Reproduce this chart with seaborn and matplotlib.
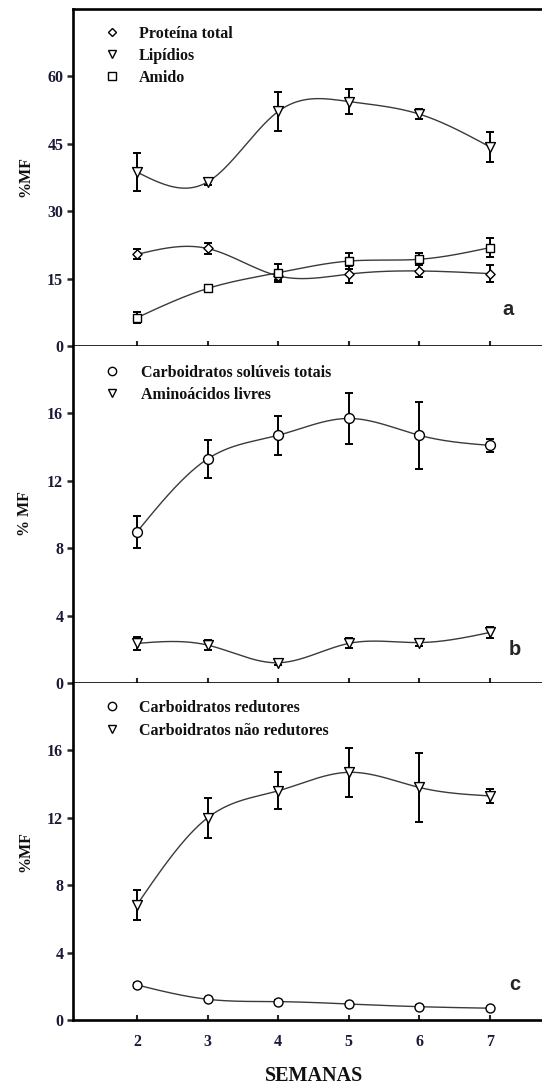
import numpy as np
import pandas as pd
import matplotlib
matplotlib.use("Agg")
import matplotlib.pyplot as plt
from matplotlib.lines import Line2D
import seaborn as sns

# ---------------- data ----------------
weeks = [2, 3, 4, 5, 6, 7]

proteina = [20.4, 21.7, 15.6, 16.0, 16.7, 16.1]
proteina_err = [1.1, 1.2, 1.0, 1.9, 1.4, 1.9]
lipidios = [38.7, 36.5, 52.2, 54.4, 51.6, 44.3]
lipidios_err = [4.3, 0.7, 4.4, 2.8, 1.1, 3.4]
amido = [6.3, 12.8, 16.3, 18.9, 19.3, 21.9]
amido_err = [1.2, 0.6, 2.0, 1.7, 1.3, 2.2]

carb_soluveis = [8.97, 13.3, 14.7, 15.7, 14.7, 14.1]
carb_soluveis_err = [0.95, 1.15, 1.15, 1.5, 2.0, 0.4]
aminoacidos = [2.35, 2.25, 1.2, 2.35, 2.4, 3.0]
aminoacidos_err = [0.4, 0.3, 0.15, 0.3, 0.2, 0.3]

carb_redutores = [2.08, 1.23, 1.09, 0.95, 0.79, 0.70]
carb_redutores_err = [0.12, 0.1, 0.08, 0.08, 0.1, 0.06]
carb_nao_redutores = [6.84, 12.0, 13.6, 14.7, 13.8, 13.3]
carb_nao_redutores_err = [0.9, 1.2, 1.1, 1.45, 2.05, 0.4]

yticks_a = [0, 15, 30, 45, 60]
yticks_bc = [0, 4, 8, 12, 16]
xtick_labels = ["2", "3", "4", "5", "6", "7"]


# ------------- helper: natural cubic spline for smooth curve -------------
def natural_spline(x, y, xs):
    x = np.asarray(x, float)
    y = np.asarray(y, float)
    n = len(x)
    h = np.diff(x)
    A = np.zeros((n, n))
    b = np.zeros(n)
    A[0, 0] = 1
    A[-1, -1] = 1
    for i in range(1, n - 1):
        A[i, i - 1] = h[i - 1]
        A[i, i] = 2 * (h[i - 1] + h[i])
        A[i, i + 1] = h[i]
        b[i] = 6 * ((y[i + 1] - y[i]) / h[i] - (y[i] - y[i - 1]) / h[i - 1])
    M = np.linalg.solve(A, b)
    out = np.empty_like(xs)
    for k, xv in enumerate(xs):
        i = min(max(np.searchsorted(x, xv) - 1, 0), n - 2)
        t1 = x[i + 1] - xv
        t0 = xv - x[i]
        out[k] = (M[i] * t1 ** 3 / (6 * h[i]) + M[i + 1] * t0 ** 3 / (6 * h[i])
                  + (y[i] / h[i] - M[i] * h[i] / 6) * t1
                  + (y[i + 1] / h[i] - M[i + 1] * h[i] / 6) * t0)
    return out


sns.set_style("ticks")
SERIF = ["Liberation Serif", "DejaVu Serif"]
plt.rcParams["font.family"] = SERIF

W, H = 542, 1086
fig = plt.figure(figsize=(W / 100, H / 100), dpi=100)

left_px, right_px = 73, 542
rows = [(9, 346), (346, 683), (683, 1020)]
xlim = (2 - (137 - left_px) / 70.6, 7 + (right_px - 490) / 70.6)

TICKCOL = "#1b1b38"
LEG_FS = 11.5


def make_ax(top_px, bot_px):
    return fig.add_axes([left_px / W, 1 - bot_px / H, (right_px - left_px) / W,
                         (bot_px - top_px) / H])


def draw_series(ax, vals, err, marker, s):
    xs = np.linspace(2, 7, 300)
    ys = natural_spline(weeks, vals, xs)
    curve = pd.DataFrame({"x": xs, "y": ys})
    sns.lineplot(data=curve, x="x", y="y", ax=ax, color="#3a3a3a", lw=1.0,
                 sort=False, estimator=None, zorder=2)
    ax.errorbar(weeks, vals, yerr=err, fmt="none", ecolor="black",
                elinewidth=1.4, capsize=2.6, capthick=1.4, zorder=3)
    sns.scatterplot(x=weeks, y=vals, ax=ax, marker=marker, s=s, color="white",
                    edgecolor="black", linewidth=1.0, zorder=4)


def style_ax(ax, ylim, yticks, top_spine, show_xlabels):
    ax.set_xlim(*xlim)
    ax.set_ylim(*ylim)
    ax.set_yticks(yticks)
    ax.set_xticks(weeks)
    ax.set_xticklabels(xtick_labels if show_xlabels else [])
    ax.set_xlabel("")
    ax.set_ylabel("")
    for sp in ["left", "bottom", "top", "right"]:
        ax.spines[sp].set_linewidth(1.9)
        ax.spines[sp].set_color("black")
    ax.spines["right"].set_visible(False)
    ax.spines["top"].set_visible(top_spine)
    ax.tick_params(axis="y", direction="out", length=4, width=1.8, pad=3,
                   labelsize=11.5, labelcolor=TICKCOL)
    ax.tick_params(axis="x", direction="in", length=3.5, width=1.5, pad=10,
                   labelsize=11.5, labelcolor=TICKCOL)
    for lab in ax.get_yticklabels() + ax.get_xticklabels():
        lab.set_fontweight("bold")
        lab.set_family(SERIF)
    ax.set_facecolor("white")


def add_legend(ax, entries, marker_x, text_x, first_y, row_px):
    handles = [Line2D([], [], linestyle="none", marker=m, markersize=ms,
                      markerfacecolor="white", markeredgecolor="black",
                      markeredgewidth=1.0) for (m, ms, _) in entries]
    labels = [lab for (_, _, lab) in entries]
    fs = LEG_FS
    fpx = fs * 100 / 72
    hl = 0.9
    text_h = fpx * 0.97
    leg = ax.legend(handles, labels, loc="upper left",
                    bbox_to_anchor=((marker_x - hl * fpx / 2) / W,
                                    1 - (first_y - 7.2) / H),
                    bbox_transform=fig.transFigure, frameon=False,
                    borderaxespad=0, borderpad=0, handlelength=hl,
                    handletextpad=(text_x - marker_x - hl * fpx / 2) / fpx,
                    labelspacing=(row_px - text_h) / fpx,
                    prop={"family": SERIF, "weight": "bold", "size": fs})
    for t in leg.get_texts():
        t.set_color("#111111")


# ---------------- panel a ----------------
ax_a = make_ax(*rows[0])
draw_series(ax_a, proteina, proteina_err, "D", 22)
draw_series(ax_a, lipidios, lipidios_err, "v", 50)
draw_series(ax_a, amido, amido_err, "s", 40)
style_ax(ax_a, (0, 75), yticks_a, True, False)
add_legend(ax_a, [("D", 4.5, "Proteína total"), ("v", 6.0, "Lipídios"),
                  ("s", 6.0, "Amido")], 112, 139, 33, 21.5)
ax_a.text(0.9275, 0.107, "a", transform=ax_a.transAxes, ha="center",
          va="center", fontsize=14.5, fontweight="bold",
          family=["Liberation Sans", "DejaVu Sans"])

# ---------------- panel b ----------------
ax_b = make_ax(*rows[1])
draw_series(ax_b, carb_soluveis, carb_soluveis_err, "o", 50)
draw_series(ax_b, aminoacidos, aminoacidos_err, "v", 50)
style_ax(ax_b, (0, 20), yticks_bc, False, False)
add_legend(ax_b, [("o", 6.0, "Carboidratos solúveis totais"),
                  ("v", 6.0, "Aminoácidos livres")], 112, 141, 372, 21.5)
ax_b.text(0.942, 0.098, "b", transform=ax_b.transAxes, ha="center",
          va="center", fontsize=14.5, fontweight="bold",
          family=["Liberation Sans", "DejaVu Sans"])

# ---------------- panel c ----------------
ax_c = make_ax(*rows[2])
draw_series(ax_c, carb_redutores, carb_redutores_err, "o", 42)
draw_series(ax_c, carb_nao_redutores, carb_nao_redutores_err, "v", 50)
style_ax(ax_c, (0, 20), yticks_bc, False, True)
add_legend(ax_c, [("o", 6.0, "Carboidratos redutores"),
                  ("v", 6.0, "Carboidratos não redutores")], 112, 139, 707, 22.5)
ax_c.text(0.942, 0.104, "c", transform=ax_c.transAxes, ha="center",
          va="center", fontsize=14.5, fontweight="bold",
          family=["Liberation Sans", "DejaVu Sans"])

# ---------------- labels ----------------
for (label, yc) in [("%MF", 177), ("% MF", 514), ("%MF", 852)]:
    fig.text(25 / W, 1 - yc / H, label, rotation=90, ha="center", va="center",
             fontsize=11.5, fontweight="bold", family=SERIF, color="#111111")

fig.text(314 / W, 1 - 1076 / H, "SEMANAS", ha="center", va="center",
         fontsize=14.5, fontweight="bold", family=SERIF, color="#111111")

fig.savefig("out.png", dpi=100, facecolor="white")
